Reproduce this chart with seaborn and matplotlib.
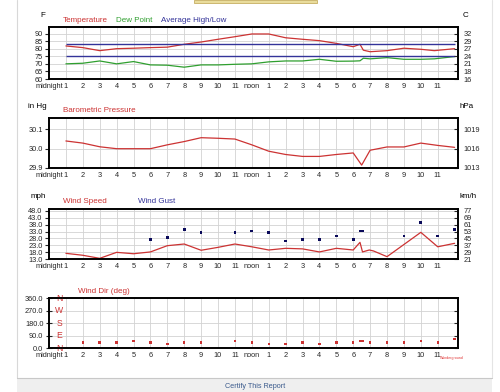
"""
plot.py — Historique météo d'une journée (style Wunderground)
Quatre panneaux : température, pression, vent, direction du vent
"""

import pandas as pd
import seaborn as sns
import matplotlib
matplotlib.use("Agg")
import matplotlib.pyplot as plt
from matplotlib.patches import Rectangle
from matplotlib.lines import Line2D

# ── Données ─────────────────────────────────────────────────────
HOUR_LABELS = (["midnight"] + [str(h) for h in range(1, 12)]
               + ["noon"] + [str(h) for h in range(1, 12)])

temp_hours = [1, 2, 3, 4, 5, 6, 7, 8, 9, 10, 11, 12, 13, 14, 15, 16, 17,
              18, 18.4, 18.6, 19, 20, 21, 22, 22.8, 24]
temp_f = [81.8, 80.7, 78.7, 80.0, 80.3, 80.7, 81.0, 82.9, 84.4, 86.2, 87.9,
          89.7, 89.7, 87.2, 86.2, 85.3, 83.5, 81.3, 82.9, 79.0, 78.0, 78.7,
          80.3, 79.6, 78.7, 80.0]
dew_f = [70.0, 70.4, 71.9, 70.0, 71.5, 69.3, 69.1, 67.8, 69.3, 69.3, 69.7,
         70.0, 71.3, 71.9, 71.9, 73.0, 71.7, 71.8, 72.0, 73.7, 73.3, 74.1,
         73.0, 73.0, 73.3, 74.8]
AVG_HIGH_F = 82.8
AVG_LOW_F = 75.4
AVG_SPAN = [1, 24]

press_hours = [1, 2, 3, 4, 5, 6, 7, 8, 9, 10, 11, 12, 13, 14, 15, 16, 17,
               18, 18.5, 19, 20, 21, 22, 23, 24]
press_inhg = [30.040, 30.029, 30.010, 30.000, 30.000, 30.000, 30.020, 30.037,
              30.057, 30.054, 30.050, 30.020, 29.987, 29.970, 29.960, 29.960,
              29.970, 29.978, 29.915, 29.992, 30.009, 30.009, 30.029, 30.017,
              30.007]

wind_hours = [1, 2, 3, 4, 5, 6, 7, 8, 9, 10, 11, 12, 13, 14, 15, 16, 17,
              18, 18.4, 18.55, 18.95, 19.2, 20, 22, 23, 24]
wind_mph = [17.3, 15.9, 13.7, 18.0, 17.0, 18.3, 22.8, 24.0, 19.5, 21.6, 24.0,
            22.0, 19.7, 20.9, 20.5, 18.3, 20.9, 19.7, 25.2, 18.3, 19.7, 19.0,
            14.9, 32.4, 22.0, 24.5]

gust_hours = [6, 7, 8, 9, 11, 12, 13, 14, 15, 16, 17, 18, 18.4, 18.55,
              21, 22, 23, 24]
gust_mph = [27.4, 28.6, 34.3, 32.2, 32.2, 33.4, 32.2, 26.2, 27.4, 27.4, 29.8,
            27.4, 33.4, 33.4, 29.8, 39.6, 29.8, 34.6]

dir_hours = [2, 3, 4, 5, 6, 7, 8, 9, 11, 12, 13, 14, 15, 16, 17, 18, 18.4,
             18.55, 19, 20, 21, 22, 23, 24]
dir_deg = [43, 43, 43, 53, 43, 29, 43, 43, 53, 43, 29, 29, 43, 29, 43, 43,
           53, 53, 43, 43, 43, 53, 43, 67]

F_TICKS = [60, 65, 70, 75, 80, 85, 90]
P_TICKS = [29.9, 30.0, 30.1]
W_TICKS = [13, 18, 23, 28, 33, 38, 43, 48]
D_TICKS = [0, 90, 180, 270, 360]
D_LETTERS = ["N", "E", "S", "W", "N"]

# ── Palette et style ────────────────────────────────────────────
RED = "#cc3333"
GREEN = "#2f9f2f"
BLUE = "#333399"
NAVY = "#0a0a5a"
GRID = "#d2d2d2"
W, H = 500, 392

sns.set_style("white")
plt.rcParams["font.family"] = ["Liberation Sans", "DejaVu Sans"]
TICK_FS = 5.3
LAB_FS = 5.8

fig = plt.figure(figsize=(W / 100, H / 100), dpi=100)
fig.patch.set_facecolor("white")


def px_axes(left, top, right, bottom):
    return fig.add_axes([left / W, 1 - bottom / H, (right - left) / W, (bottom - top) / H])


def put(x, y, s, color="black", size=LAB_FS, ha="left", va="center"):
    fig.text(x / W, 1 - y / H, s, color=color, fontsize=size, ha=ha, va=va)


def setup(ax, ylim, ticks, left_labels, right_labels=None):
    ax.set_xlim(0, 24.2)
    ax.set_ylim(*ylim)
    ax.set_xticks(range(24))
    ax.set_xticklabels(HOUR_LABELS)
    ax.set_yticks(ticks)
    ax.set_yticklabels(left_labels)
    ax.set_xlabel("")
    ax.set_ylabel("")
    ax.grid(True, color=GRID, lw=0.6)
    ax.set_axisbelow(True)
    for sp in ax.spines.values():
        sp.set_color("black")
        sp.set_linewidth(1.2)
    ax.tick_params(axis="x", length=0, pad=3, labelsize=TICK_FS)
    ax.tick_params(axis="y", direction="out", length=3, width=0.8,
                   pad=1.5, labelsize=TICK_FS, left=True)
    tw = ax.twinx()
    tw.set_ylim(*ylim)
    tw.set_yticks(ticks)
    tw.set_yticklabels(right_labels if right_labels else [])
    tw.tick_params(axis="y", direction="in", length=3, width=0.8,
                   pad=4, labelsize=TICK_FS, right=True)
    for sp in tw.spines.values():
        sp.set_color("black")
        sp.set_linewidth(1.2)
    tw.grid(False)
    return tw


# ── Panneau 1 : température ─────────────────────────────────────
ax1 = px_axes(49, 27, 458, 79)
df_t = pd.DataFrame({"h": temp_hours, "t": temp_f, "d": dew_f})
sns.lineplot(data=df_t, x="h", y="t", ax=ax1, color=RED, lw=0.9, estimator=None)
sns.lineplot(data=df_t, x="h", y="d", ax=ax1, color=GREEN, lw=0.9, estimator=None)
ax1.hlines([AVG_HIGH_F, AVG_LOW_F], AVG_SPAN[0], AVG_SPAN[1], color=BLUE, lw=1.0)
setup(ax1, (60, 94.3), F_TICKS, [str(v) for v in F_TICKS],
      [f"{(v - 32) * 5 / 9:.0f}" for v in F_TICKS])
put(43, 15.5, "F", ha="center")
put(463, 15.5, "C", ha="left")
put(63, 20.7, "Temperature", RED)
put(116, 20.7, "Dew Point", GREEN)
put(161, 20.7, "Average High/Low", BLUE)

# ── Panneau 2 : pression ────────────────────────────────────────
ax2 = px_axes(49, 118, 458, 168)
df_p = pd.DataFrame({"h": press_hours, "p": press_inhg})
sns.lineplot(data=df_p, x="h", y="p", ax=ax2, color=RED, lw=0.9, estimator=None)
setup(ax2, (29.9, 30.159), P_TICKS, [f"{v:.1f}" for v in P_TICKS],
      [f"{v * 33.8639:.0f}" for v in P_TICKS])
put(28, 106.5, "in Hg")
put(460, 106.5, "hPa")
put(63, 110.7, "Barometric Pressure", RED)

# ── Panneau 3 : vent ────────────────────────────────────────────
ax3 = px_axes(49, 209, 458, 259.3)
df_w = pd.DataFrame({"h": wind_hours, "w": wind_mph})
df_g = pd.DataFrame({"h": gust_hours, "g": gust_mph})
sns.lineplot(data=df_w, x="h", y="w", ax=ax3, color=RED, lw=0.9, estimator=None)
sns.scatterplot(data=df_g, x="h", y="g", ax=ax3, color=NAVY, marker="s",
                s=4, edgecolor="none", zorder=5, clip_on=False)
setup(ax3, (13, 49.2), W_TICKS, [f"{v:.1f}" for v in W_TICKS],
      [f"{v * 1.609344:.0f}" for v in W_TICKS])
put(31, 196, "mph")
put(460, 196, "km/h")
put(63, 201.5, "Wind Speed", RED)
put(138, 201.5, "Wind Gust", BLUE)

# ── Panneau 4 : direction du vent ───────────────────────────────
ax4 = px_axes(49, 298.3, 458, 348.3)
df_d = pd.DataFrame({"h": dir_hours, "d": dir_deg})
sns.scatterplot(data=df_d, x="h", y="d", ax=ax4, color=RED, marker="s",
                s=3, edgecolor="none", zorder=5, clip_on=False)
setup(ax4, (0, 360), D_TICKS, [f"{v:.1f}" for v in D_TICKS])
ax4.tick_params(axis="y", direction="inout", length=5)
for deg, letter in zip(D_TICKS, D_LETTERS):
    ax4.text(0.6, deg, letter, color=RED, fontsize=6.2, ha="center", va="center",
             clip_on=False, zorder=6)
put(78, 291.5, "Wind Dir (deg)", RED)
put(440, 358.5, "Wunderground", "#e03030", size=2.6)

# ── Cadre de la page ────────────────────────────────────────────
fig.add_artist(Line2D([17 / W, 17 / W], [1 - 378 / H, 1], color="#d8d8d8",
                      lw=0.8, transform=fig.transFigure))
fig.add_artist(Line2D([492 / W, 492 / W], [1 - 378 / H, 1], color="#e4e4e4",
                      lw=0.8, transform=fig.transFigure))
fig.add_artist(Rectangle((17 / W, 0), (492 - 17) / W, 14 / H, facecolor="#efefef",
                         edgecolor="none", transform=fig.transFigure))
fig.add_artist(Line2D([17 / W, 492 / W], [14 / H, 14 / H], color="#c8c8c8",
                      lw=0.8, transform=fig.transFigure))
fig.add_artist(Rectangle((194 / W, 1 - 2.5 / H), 123 / W, 2.5 / H,
                         facecolor="#e9dc9c", edgecolor="#c6ae62", lw=0.6,
                         transform=fig.transFigure))
put(255, 386.5, "Certify This Report", "#3a5a8c", size=5.2, ha="center", va="center")

fig.savefig("out.png", dpi=100)
plt.close(fig)
